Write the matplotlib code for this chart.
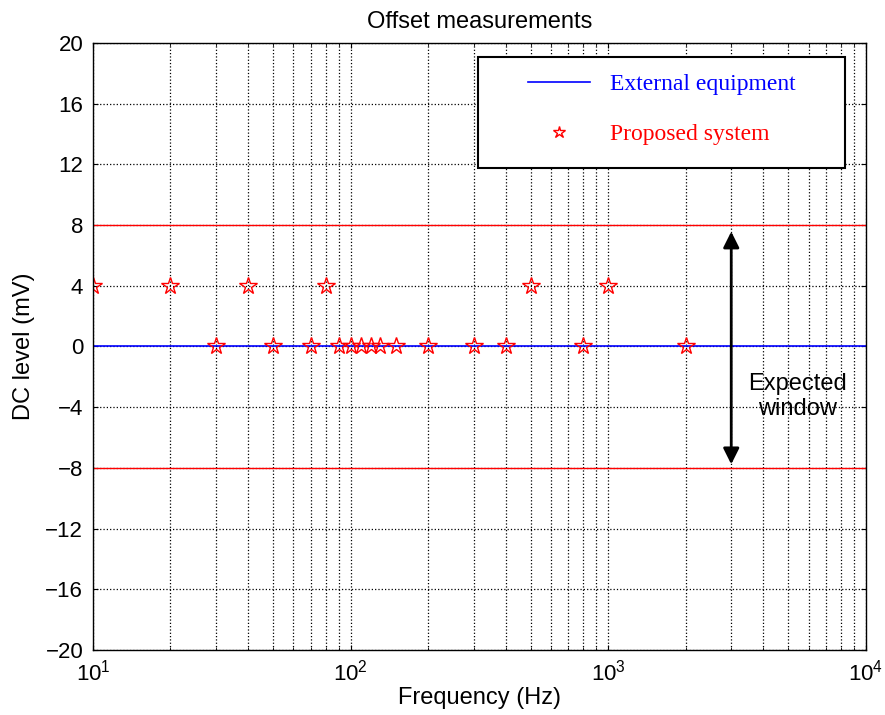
import matplotlib
matplotlib.use('Agg')
import matplotlib.pyplot as plt
from matplotlib.patches import Rectangle
import numpy as np

plt.rcParams.update({'font.family': ['Liberation Sans', 'DejaVu Sans'], 'font.size': 16,
                     'mathtext.fontset': 'custom', 'mathtext.rm': 'Liberation Sans'})

# data
freq_hi = [10, 20, 40, 80, 500, 1000]
dc_hi = [4, 4, 4, 4, 4, 4]
freq_zero = [30, 50, 70, 90, 100, 110, 120, 130, 150, 200, 300, 400, 800, 2000]
dc_zero = [0] * len(freq_zero)
ext_freq = [10, 10000]
ext_dc = [0.05, 0.05]
limit_hi = 8
limit_lo = -8

fig = plt.figure(figsize=(8.85, 7.15), dpi=100)
ax = fig.add_axes([0.105, 0.091, 0.8735, 0.849])

ax.plot(ext_freq, ext_dc, color='blue', linewidth=1.2, label='External equipment')
ax.plot(freq_hi + freq_zero, dc_hi + dc_zero, linestyle='none', marker='*', markersize=13,
        markerfacecolor='none', markeredgecolor='red', markeredgewidth=1.0, label='Proposed system')
ax.axhline(limit_hi, color='red', linewidth=1.0)
ax.axhline(limit_lo, color='red', linewidth=1.0)

# expected window arrow + text
ax.annotate('', xy=(3000, 7.75), xytext=(3000, -7.95),
            arrowprops=dict(arrowstyle='<|-|>', color='black', lw=2, mutation_scale=24))
ax.text(5400, -3.3, 'Expected\nwindow', ha='center', va='center', fontsize=17, linespacing=1.15)

ax.set_xscale('log')
ax.set_xlim(10, 10000)
ax.set_ylim(-20, 20)
ax.set_yticks(np.arange(-20, 21, 4))
ax.grid(True, which='both', axis='x', color='black', linestyle=':', linewidth=0.9)
ax.grid(True, which='major', axis='y', color='black', linestyle=':', linewidth=0.9)
ax.tick_params(which='both', direction='in', top=True, right=True)
ax.tick_params(axis='y', pad=7)
ax.tick_params(axis='x', pad=7)
for s in ax.spines.values():
    s.set_linewidth(1.0)

ax.set_xlabel('Frequency (Hz)', fontsize=17, labelpad=1)
ax.set_ylabel('DC level (mV)', fontsize=17)
ax.yaxis.set_label_coords(-0.075, 0.5)
ax.set_title('Offset measurements', fontsize=17, pad=11)

# legend: box drawn by hand, entries without frame
ax.add_patch(Rectangle((0.498, 0.794), 0.475, 0.183, transform=ax.transAxes, facecolor='white',
                       edgecolor='black', linewidth=1.5, zorder=5))
leg = ax.legend(loc='upper left', bbox_to_anchor=(0.563, 0.949), frameon=False,
                borderpad=0, borderaxespad=0, labelspacing=1.2, handlelength=2.6,
                handletextpad=0.85, prop={'family': 'Liberation Serif', 'size': 17})
leg.set_zorder(6)
leg.legend_handles[1].set_markersize(9)
for t, c in zip(leg.get_texts(), ['blue', 'red']):
    t.set_color(c)

fig.savefig('out.png', dpi=100)
